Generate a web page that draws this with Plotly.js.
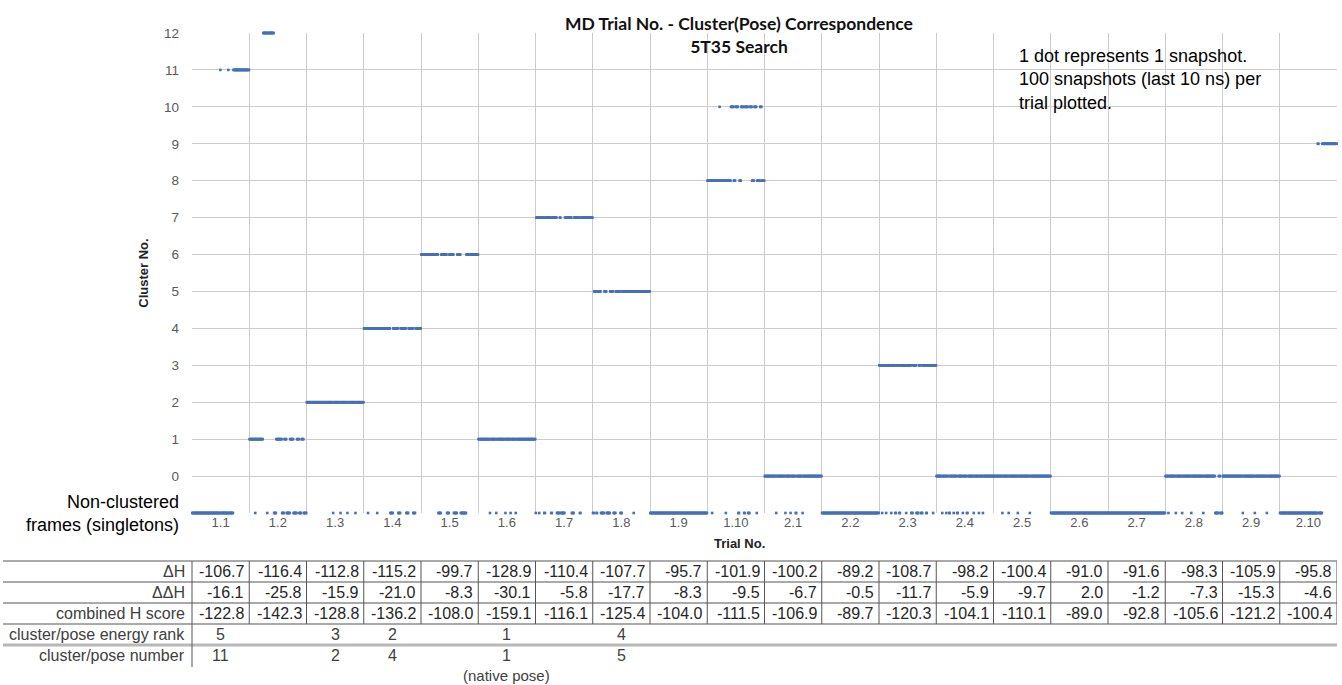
<!DOCTYPE html>
<html><head><meta charset="utf-8">
<script src="https://cdn.plot.ly/plotly-3.0.1.min.js"></script>
<style>html,body{margin:0;padding:0;background:#fff}#chart{width:1342px;height:685px}</style>
</head><body><div id="chart"></div>
<script>
// ---------- DATA ----------
const trials = ['1.1','1.2','1.3','1.4','1.5','1.6','1.7','1.8','1.9','1.10',
                '2.1','2.2','2.3','2.4','2.5','2.6','2.7','2.8','2.9','2.10'];
const snapshotsPerTrial = 100;
// cluster number of consecutive snapshots per trial, as [cluster, count] runs (-1 = singleton)
const clusterRuns = [
  [[-1,49],[11,1],[-1,13],[11,1],[-1,8],[11,28]],
  [[1,10],[-1,1],[1,13],[12,7],[-1,1],[12,11],[-1,4],[1,10],[-1,4],[1,4],[-1,6],[1,6],[-1,6],[1,4],[-1,4],[1,4],[-1,5]],
  [[2,46],[-1,1],[2,12],[-1,1],[2,11],[-1,1],[2,13],[-1,1],[2,14]],
  [[4,7],[-1,1],[4,15],[-1,1],[4,22],[-1,5],[4,9],[-1,4],[4,10],[-1,4],[4,8],[-1,4],[4,10]],
  [[6,30],[-1,5],[6,10],[-1,4],[6,8],[-1,6],[6,6],[-1,10],[6,21]],
  [[1,20],[-1,1],[1,10],[-1,1],[1,15],[-1,1],[1,8],[-1,1],[1,8],[-1,1],[1,34]],
  [[-1,1],[7,5],[-1,1],[7,8],[-1,2],[7,10],[-1,2],[7,8],[-1,5],[7,2],[-1,7],[7,12],[-1,4],[7,10],[-1,2],[7,21]],
  [[-1,2],[5,4],[-1,2],[5,6],[-1,6],[5,4],[-1,6],[5,6],[-1,4],[5,8],[-1,3],[5,20],[-1,1],[5,28]],
  [[-1,100]],
  [[8,8],[-1,1],[8,12],[10,1],[8,10],[-1,1],[8,8],[10,5],[8,3],[10,5],[-1,2],[8,3],[10,5],[-1,2],[10,5],[-1,3],[10,4],[8,4],[10,4],[-1,1],[8,5],[10,3],[8,5]],
  [[0,20],[-1,1],[0,15],[-1,1],[0,8],[-1,1],[0,8],[-1,2],[0,10],[-1,1],[0,33]],
  [[-1,100]],
  [[3,5],[-1,1],[3,6],[-1,1],[3,8],[-1,1],[3,6],[-1,2],[3,5],[-1,2],[3,10],[-1,1],[3,8],[-1,3],[3,6],[-1,4],[3,4],[-1,3],[3,6],[-1,2],[3,10],[-1,1],[3,5]],
  [[0,10],[-1,1],[0,6],[-1,1],[0,4],[-1,2],[0,6],[-1,1],[0,5],[-1,2],[0,8],[-1,1],[0,6],[-1,2],[0,10],[-1,1],[0,8],[-1,1],[0,6],[-1,1],[0,18]],
  [[0,15],[-1,1],[0,10],[-1,1],[0,15],[-1,1],[0,20],[-1,1],[0,36]],
  [[-1,100]],
  [[-1,100]],
  [[0,5],[-1,1],[0,12],[-1,1],[0,10],[-1,1],[0,15],[-1,1],[0,20],[-1,1],[0,20],[-1,6],[0,3],[-1,4]],
  [[0,35],[-1,1],[0,20],[-1,1],[0,20],[-1,1],[0,22]],
  [[-1,66],[9,2],[-1,6],[9,26]]
];
const yTickVals = [-1,0,1,2,3,4,5,6,7,8,9,10,11,12];
const yTickText = ['','0','1','2','3','4','5','6','7','8','9','10','11','12'];

const dH       = [-106.7,-116.4,-112.8,-115.2,-99.7,-128.9,-110.4,-107.7,-95.7,-101.9,-100.2,-89.2,-108.7,-98.2,-100.4,-91.0,-91.6,-98.3,-105.9,-95.8];
const ddH      = [-16.1,-25.8,-15.9,-21.0,-8.3,-30.1,-5.8,-17.7,-8.3,-9.5,-6.7,-0.5,-11.7,-5.9,-9.7,2.0,-1.2,-7.3,-15.3,-4.6];
const combinedH= [-122.8,-142.3,-128.8,-136.2,-108.0,-159.1,-116.1,-125.4,-104.0,-111.5,-106.9,-89.7,-120.3,-104.1,-110.1,-89.0,-92.8,-105.6,-121.2,-100.4];
const energyRank = ['5','','3','2','','1','','4','','','','','','','','','','','',''];
const poseNumber = ['11','','2','4','','1','','5','','','','','','','','','','','',''];
const poseNote   = ['','','','','','(native pose)','','','','','','','','','','','','','',''];
const rowLabels = ['\u0394H','\u0394\u0394H','combined H score','cluster/pose energy rank','cluster/pose number'];

// ---------- BUILD POINTS ----------
const xs = [], ys = [];
clusterRuns.forEach((runs, g) => {
  let i = 0;
  runs.forEach(([c, n]) => {
    for (let k = 0; k < n; k++) { xs.push(g * snapshotsPerTrial + i + 0.5); ys.push(c); i++; }
  });
});
const xCenters = trials.map((t, g) => g * snapshotsPerTrial + snapshotsPerTrial / 2);
const xMax = trials.length * snapshotsPerTrial;

// ---------- LAYOUT GEOMETRY (pixels) ----------
const L = 192, R = 1337, T = 33, B = 513, FW = 1342, FH = 685;
const PX = X => (X - L) / (R - L);
const PY = Y => (B - Y) / (B - T);
const FONT = 'Liberation Sans, Arial, sans-serif';
const GRID = '#cccccc';

const shapes = [];
const annotations = [];
const tableLine = '#555';
[561, 582, 603, 624].forEach(Y => shapes.push({type:'line', xref:'paper', yref:'paper',
  x0: PX(3), x1: 1, y0: PY(Y), y1: PY(Y), line:{color:tableLine, width:1}}));
shapes.push({type:'line', xref:'paper', yref:'paper', x0: PX(3), x1: 1, y0: PY(645), y1: PY(645),
  line:{color:'#b8b8b8', width:3}});
shapes.push({type:'line', xref:'paper', yref:'paper', x0: 0, x1: 0, y0: PY(561), y1: PY(667),
  line:{color:tableLine, width:1}});
for (let k = 1; k <= trials.length; k++) {
  shapes.push({type:'line', xref:'x', yref:'paper', x0: k * snapshotsPerTrial, x1: k * snapshotsPerTrial,
    y0: PY(561), y1: PY(624), line:{color:tableLine, width:1}});
}
const rowY = [571.5, 592.5, 613.5, 634.5, 655.5];
rowLabels.forEach((lab, r) => annotations.push({xref:'paper', yref:'paper', x: PX(187), y: PY(rowY[r]),
  xanchor:'right', yanchor:'middle', text: lab, showarrow:false, font:{family:FONT, size:16, color:'#404040'}}));
const numRows = [dH, ddH, combinedH];
numRows.forEach((arr, r) => arr.forEach((v, g) => annotations.push({xref:'x', yref:'paper',
  x: g * snapshotsPerTrial + 95, y: PY(rowY[r]), xanchor:'right', yanchor:'middle', text: v.toFixed(1),
  showarrow:false, font:{family:FONT, size:16, color:'#262626'}})));
[energyRank, poseNumber].forEach((arr, r) => arr.forEach((v, g) => { if (v) annotations.push({xref:'x', yref:'paper',
  x: xCenters[g], y: PY(rowY[3 + r]), xanchor:'center', yanchor:'middle', text: v,
  showarrow:false, font:{family:FONT, size:16, color:'#404040'}}); }));
poseNote.forEach((v, g) => { if (v) annotations.push({xref:'x', yref:'paper', x: xCenters[g], y: PY(675),
  xanchor:'center', yanchor:'middle', text: v, showarrow:false, font:{family:FONT, size:15, color:'#404040'}}); });

annotations.push({xref:'paper', yref:'paper', x: PX(181), y: PY(513), xanchor:'right', yanchor:'middle', align:'right',
  text:'Non-clustered<br>frames (singletons)', showarrow:false, font:{family:FONT, size:18, color:'#000'}});
annotations.push({xref:'paper', yref:'paper', x: PX(1017), y: PY(79), xanchor:'left', yanchor:'middle', align:'left',
  text:'1 dot represents 1 snapshot.<br>100 snapshots (last 10 ns) per<br>trial plotted.', showarrow:false,
  font:{family:FONT, size:18, color:'#000'}});
annotations.push({xref:'paper', yref:'paper', x: PX(739), y: PY(543), xanchor:'center', yanchor:'middle',
  text:'<b>Trial No.</b>', showarrow:false, font:{family:FONT, size:13, color:'#222'}});

const trace = {
  type:'scatter', mode:'markers', x: xs, y: ys, cliponaxis:false,
  marker:{symbol:'square', size:2.6, color:'#4670b8', line:{width:0}},
  hoverinfo:'skip', showlegend:false
};

const layout = {
  width: FW, height: FH,
  margin:{l:L, r:FW - R, t:T, b:FH - B, pad:0},
  paper_bgcolor:'#fff', plot_bgcolor:'#fff',
  showlegend:false,
  title:{text:'<b>MD Trial No. - Cluster(Pose) Correspondence</b><br><b>5T35 Search</b>',
    xref:'container', x: 739 / FW, xanchor:'center', yref:'container', y: 1 - 30 / FH, yanchor:'top',
    font:{family:'Lato, sans-serif', size:17.5, color:'#111'}},
  xaxis:{range:[0, xMax], tickmode:'array', tickvals:xCenters, ticktext:trials, showgrid:false,
    zeroline:false, showline:false, ticks:'', tickfont:{family:FONT, size:13, color:'#595959'},
    minor:{tickmode:'linear', tick0:0, dtick:snapshotsPerTrial, showgrid:true, gridcolor:GRID, gridwidth:1, ticks:''}},
  yaxis:{range:[-1, 12], tickmode:'array', tickvals:yTickVals, ticktext:yTickText, showgrid:true, gridcolor:GRID,
    zeroline:false, showline:false, ticks:'', ticklabelstandoff:12,
    tickfont:{family:FONT, size:13.5, color:'#595959'},
    title:{text:'<b>Cluster No.</b>', standoff:12, font:{family:FONT, size:13, color:'#222'}}},
  shapes: shapes,
  annotations: annotations
};

Plotly.newPlot('chart', [trace], layout, {displayModeBar:false, staticPlot:true});
</script>
</body></html>
